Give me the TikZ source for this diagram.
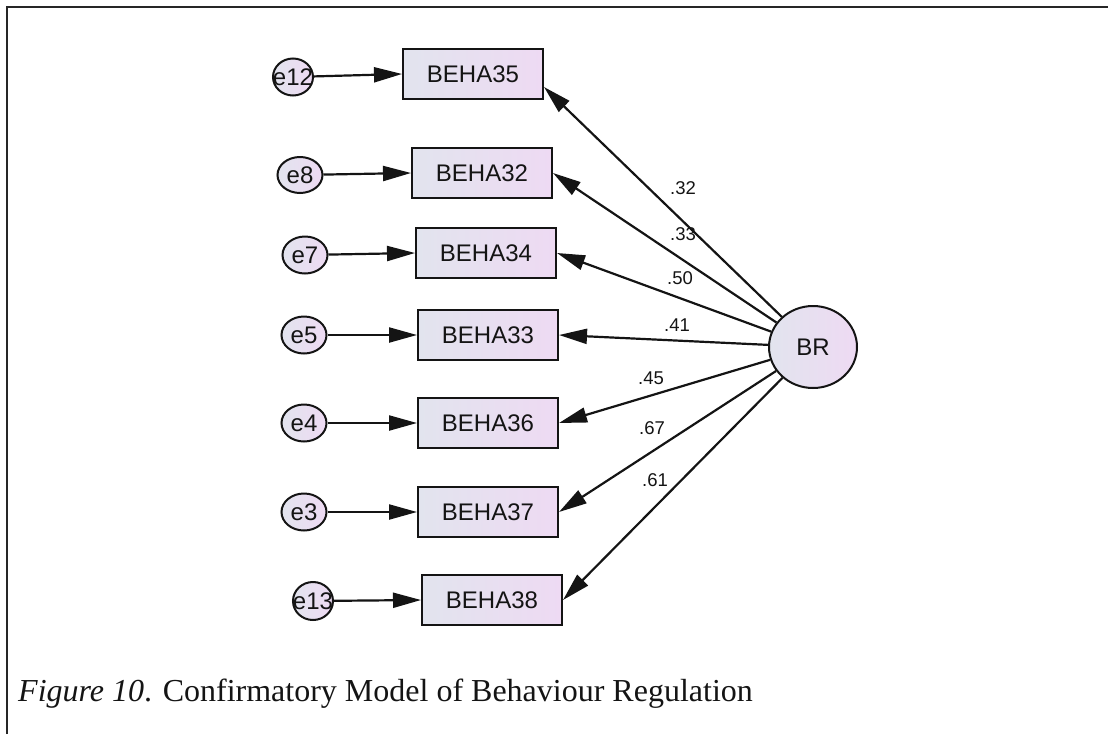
\documentclass[tikz,border=0pt]{standalone}
\usepackage{fontspec}
\setmainfont{Liberation Serif}
\newfontfamily\diagfont{Liberation Sans}
\usetikzlibrary{arrows.meta,shapes.geometric}
\definecolor{fillL}{RGB}{226,228,238}
\definecolor{fillR}{RGB}{238,218,243}
\definecolor{ink}{RGB}{20,20,20}
\newcommand{\errlabel}[1]{\makebox[0pt]{#1}}
\begin{document}
\begin{tikzpicture}[x=1pt,y=-1pt,
  every node/.style={text=ink},
  obs/.style={draw=ink,line width=2pt,rectangle,minimum width=140pt,minimum height=50pt,
    inner sep=0pt,left color=fillL,right color=fillR,font=\diagfont\fontsize{24}{26}\selectfont},
  err/.style={draw=ink,line width=2pt,ellipse,minimum width=45pt,minimum height=37pt,
    inner sep=0pt,left color=fillL,right color=fillR,font=\diagfont\fontsize{24}{26}\selectfont},
  lat/.style={draw=ink,line width=2pt,ellipse,minimum width=88pt,minimum height=82pt,
    inner sep=0pt,left color=fillL,right color=fillR,font=\diagfont\fontsize{24}{26}\selectfont},
  path/.style={draw=ink,line width=2.2pt,-{Triangle[length=28pt,width=15pt]}},
  coef/.style={font=\diagfont\fontsize{18.5}{20}\selectfont,inner sep=0pt},
]
\useasboundingbox (0,0) rectangle (1108,734);
% frame
\draw[line width=2pt,color=black!85] (7,734) -- (7,7) -- (1108,7);

% latent factor
\node[lat] (BR) at (813,347) {BR};

% indicators
\node[obs] (b35) at (473,74) {BEHA35};
\node[obs] (b32) at (482,173) {BEHA32};
\node[obs] (b34) at (486,253) {BEHA34};
\node[obs] (b33) at (488,335) {BEHA33};
\node[obs] (b36) at (488,423) {BEHA36};
\node[obs] (b37) at (488,512) {BEHA37};
\node[obs] (b38) at (492,600) {BEHA38};

% error terms
\node[err,minimum width=40pt] (e12) at (293,77) {\errlabel{e12}};
\node[err,minimum height=36pt] (e8) at (300,175) {\errlabel{e8}};
\node[err] (e7) at (305,255) {\errlabel{e7}};
\node[err] (e5) at (304,335) {\errlabel{e5}};
\node[err] (e4) at (304,423) {\errlabel{e4}};
\node[err] (e3) at (304,512) {\errlabel{e3}};
\node[err,minimum width=40pt,minimum height=38pt] (e13) at (313,601) {\errlabel{e13}};

% error paths
\draw[path] (e12) -- (b35.west);
\draw[path] (e8) -- (b32.west);
\draw[path] (e7) -- (b34.west);
\draw[path] (e5) -- (b33.west);
\draw[path] (e4) -- (b36.west);
\draw[path] (e3) -- (b37.west);
\draw[path] (e13) -- (b38.west);

% factor loadings
\coordinate (t35) at ([yshift=-13pt]b35.east);
\draw[path] (BR) -- (t35);
\draw[path] (BR) -- (b32.east);
\draw[path] (BR) -- (b34.east);
\draw[path] (BR) -- (b33.east);
\draw[path] (BR) -- (b36.east);
\draw[path] (BR) -- (b37.east);
\draw[path] (BR) -- (b38.east);

\node[coef] (l35) at (683,188) {.32};
\node[coef] (l32) at (683,234) {.33};
\node[coef] (l34) at (680,278) {.50};
\node[coef] (l33) at (677,325) {.41};
\node[coef] (l36) at (651,378) {.45};
\node[coef] (l37) at (652,428) {.67};
\node[coef] (l38) at (655,480) {.61};

% caption
\node[anchor=base west,inner sep=0pt,font=\fontsize{32}{36}\selectfont] (cap) at (18,701)
  {\textit{Figure 10}. Confirmatory Model of Behaviour Regulation};
\end{tikzpicture}
\end{document}
